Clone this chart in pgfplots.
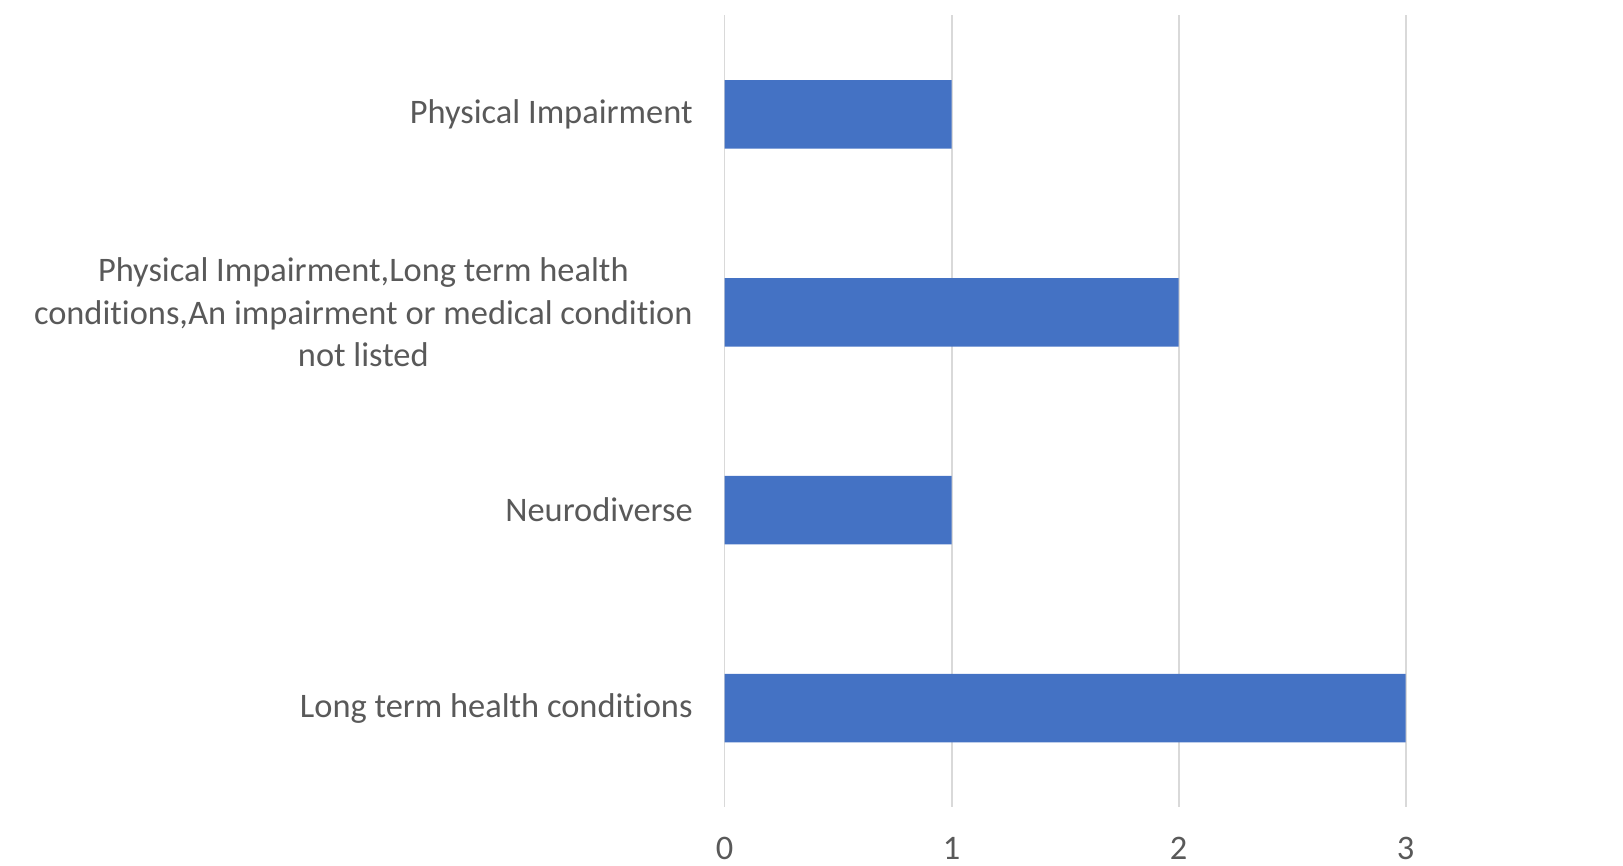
\documentclass[border=0pt]{standalone}
\usepackage{fontspec}
\setmainfont{Carlito}[Ligatures={NoCommon}]
\usepackage{pgfplots}
\pgfplotsset{compat=1.18}
\definecolor{barblue}{HTML}{4472C4}
\definecolor{txtgray}{HTML}{595959}
\definecolor{gridgray}{HTML}{D9D9D9}
\begin{document}
\begin{tikzpicture}
\useasboundingbox (0,0) rectangle (811.5pt,433pt);
\begin{axis}[
  at={(362.3pt,29.5pt)}, anchor=south west,
  scale only axis, width=340.5pt, height=395.75pt,
  xbar, bar width=34.25pt,
  xmin=0, xmax=3, ymin=-0.5, ymax=3.5,
  xtick={0,1,2,3}, ytick={0,1,2,3},
  yticklabels={Long term health conditions, Neurodiverse, {Physical Impairment,Long term health\\conditions,An impairment or medical condition\\not listed}, Physical Impairment},
  xmajorgrids, major grid style={gridgray, line width=0.9pt},
  axis line style={draw=none}, tick style={draw=none}, major tick length=0pt,
  /pgf/number format/assume math mode=true,
  every tick label/.append style={font=\fontsize{17.2}{21.2}\selectfont, text=txtgray},
  yticklabel style={align=center, inner sep=0pt, anchor=east, xshift=-15.8pt},
  xticklabel style={inner sep=0pt, anchor=base, yshift=-26.2pt},
]
\addplot[fill=barblue, draw=none] coordinates {(3,0) (1,1) (2,2) (1,3)};
\end{axis}
\end{tikzpicture}
\end{document}
